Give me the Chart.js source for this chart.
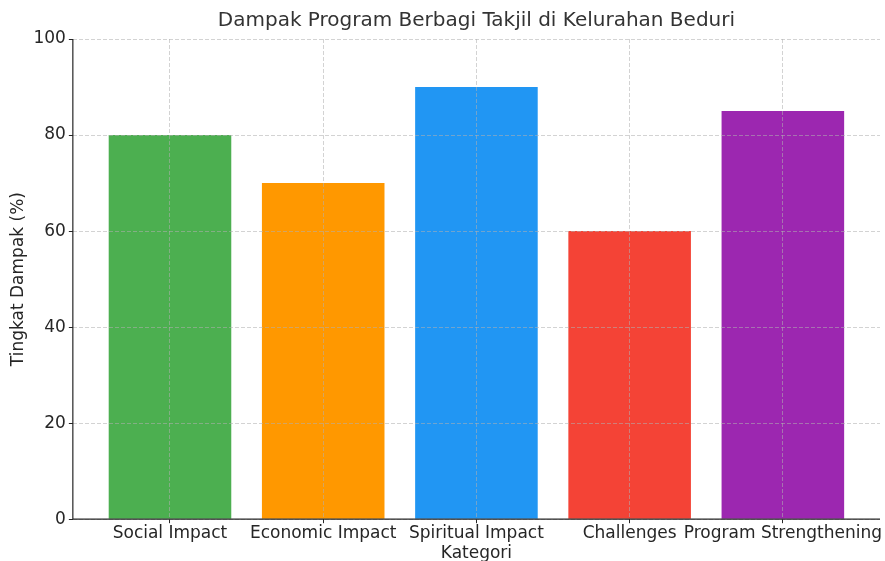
<!DOCTYPE html>
<html>
<head>
<meta charset="utf-8">
<script src="https://cdn.jsdelivr.net/npm/chart.js@4"></script>
<style>
  body { margin: 0; background: #fff; }
</style>
</head>
<body>
<canvas id="chart" width="885" height="561"></canvas>
<script>
// data
const categories = ['Social Impact', 'Economic Impact', 'Spiritual Impact', 'Challenges', 'Program Strengthening'];
const impactValues = [80, 70, 90, 60, 85];
const barColors = ['#4CAF50', '#FF9800', '#2196F3', '#F44336', '#9C27B0'];
const yTicks = [0, 20, 40, 60, 80, 100];

const gridColor = 'rgba(176, 176, 176, 0.7)';
const textColor = '#262626';
const font = 'DejaVu Sans';

// solid left and bottom spines, drawn over the bars like matplotlib does
const spines = {
  id: 'spines',
  afterDraw(chart) {
    const { ctx, chartArea: a } = chart;
    ctx.save();
    ctx.strokeStyle = textColor;
    ctx.lineWidth = 1.2;
    ctx.setLineDash([]);
    ctx.beginPath();
    ctx.moveTo(a.left, a.top);
    ctx.lineTo(a.left, a.bottom);
    ctx.lineTo(a.right, a.bottom);
    ctx.stroke();
    ctx.restore();
  }
};

const ctx = document.getElementById('chart').getContext('2d');
new Chart(ctx, {
  type: 'bar',
  plugins: [spines],
  data: {
    datasets: [{
      data: impactValues.map((v, i) => ({ x: i, y: v })),
      backgroundColor: barColors,
      borderWidth: 0,
      barPercentage: 0.8,
      categoryPercentage: 1
    }]
  },
  options: {
    responsive: false,
    animation: false,
    layout: { padding: { left: 8, right: 5, top: 0, bottom: -3 } },
    plugins: {
      legend: { display: false },
      tooltip: { enabled: false },
      title: {
        display: true,
        fullSize: false,
        text: 'Dampak Program Berbagi Takjil di Kelurahan Beduri',
        color: '#333',
        font: { family: font, size: 20, weight: 'normal' },
        padding: { top: 9, bottom: 6 }
      }
    },
    scales: {
      x: {
        type: 'linear',
        min: -0.634,
        max: 4.634,
        offset: false,
        afterBuildTicks: axis => { axis.ticks = categories.map((c, i) => ({ value: i })); },
        grid: { offset: false, color: gridColor, lineWidth: 0.8, z: 1, tickColor: textColor, tickLength: 4, tickWidth: 1 },
        border: { display: false, dash: [4, 2] },
        ticks: {
          autoSkip: false,
          maxRotation: 0,
          color: textColor,
          font: { family: font, size: 17 },
          padding: 0,
          callback: v => categories[v] ?? ''
        },
        title: {
          display: true,
          text: 'Kategori',
          color: textColor,
          font: { family: font, size: 17 },
          padding: { top: 0, bottom: 0 }
        }
      },
      y: {
        min: 0,
        max: 100,
        afterBuildTicks: axis => { axis.ticks = yTicks.map(v => ({ value: v })); },
        grid: { color: gridColor, lineWidth: 0.8, z: 1, tickColor: textColor, tickLength: 4, tickWidth: 1 },
        border: { display: false, dash: [4, 2] },
        ticks: {
          color: textColor,
          font: { family: font, size: 17 },
          padding: 3
        },
        title: {
          display: true,
          text: 'Tingkat Dampak (%)',
          color: textColor,
          font: { family: font, size: 17 },
          padding: { top: 0, bottom: 2 }
        }
      }
    }
  }
});
</script>
</body>
</html>
